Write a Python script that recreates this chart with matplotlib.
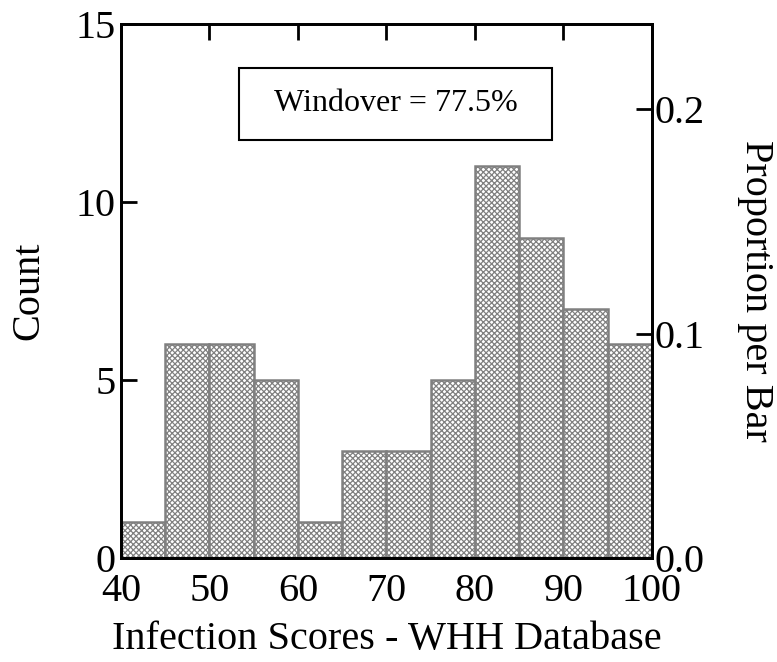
import matplotlib.pyplot as plt
from matplotlib.patches import Rectangle

plt.rcParams['font.family'] = ['Liberation Serif', 'DejaVu Serif']
plt.rcParams['hatch.color'] = '#7a7a7a'
plt.rcParams['hatch.linewidth'] = 0.9

# histogram bins and counts
bin_left = [40, 45, 50, 55, 60, 65, 70, 75, 80, 85, 90, 95]
counts = [1, 6, 6, 5, 1, 3, 3, 5, 11, 9, 7, 6]
bin_width = 5
n_total = sum(counts)

x_ticks = [40, 50, 60, 70, 80, 90, 100]
y_ticks = [0, 5, 10, 15]
prop_ticks = [0.0, 0.1, 0.2]

fig = plt.figure(figsize=(7.77, 6.62), dpi=100)
ax = fig.add_axes([0.1557, 0.157, 0.6834, 0.8067])

ax.bar(bin_left, counts, width=bin_width, align='edge', facecolor='white',
       edgecolor='#808080', linewidth=1.8, hatch='xxxxxx', zorder=1)

ax.set_xlim(40, 100)
ax.set_ylim(0, 15)
ax.set_xticks(x_ticks)
ax.set_yticks(y_ticks)
ax.tick_params(axis='both', labelsize=29, width=2, length=11.5, direction='in')
ax.tick_params(axis='x', bottom=False, top=True, pad=11)
ax.tick_params(axis='y', left=True, right=False, pad=4)
for s in ax.spines.values():
    s.set_linewidth(2)
ax.set_xlabel('Infection Scores - WHH Database', fontsize=29, labelpad=8)
ax.set_ylabel('Count', fontsize=29, labelpad=20)

ax2 = ax.twinx()
ax2.set_ylim(0, 15 / n_total)
ax2.set_yticks(prop_ticks)
ax2.set_yticklabels(['0.0', '0.1', '0.2'])
ax2.tick_params(axis='y', labelsize=29, width=2, length=11.5, direction='in', pad=2)
for s in ax2.spines.values():
    s.set_linewidth(2)
ax2.set_ylabel('Proportion per Bar', fontsize=29, rotation=-90, labelpad=50)

box = Rectangle((0.222, 0.783), 0.59, 0.135, transform=ax.transAxes,
                facecolor='white', edgecolor='black', linewidth=1.5, zorder=3)
ax.add_patch(box)
ax.text(0.222 + 0.295, 0.783 + 0.0675, 'Windover = 77.5%', transform=ax.transAxes,
        ha='center', va='center', fontsize=23, zorder=4)

fig.savefig('out.png', dpi=100)
